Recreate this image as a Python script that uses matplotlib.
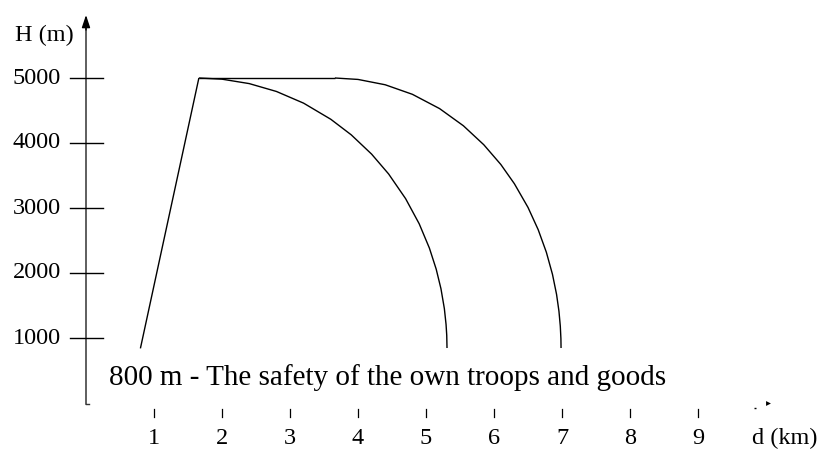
import matplotlib
matplotlib.use("Agg")
import matplotlib.pyplot as plt

# ---- data ----
ramp_d = [0.80, 1.66]
ramp_h = [840, 5000]

flat_d = [1.66, 3.66]
flat_h = [5000, 5000]

inner_d = [1.66, 2.00, 2.40, 2.80, 3.20, 3.60, 3.90, 4.20, 4.45, 4.70, 4.90,
           5.05, 5.15, 5.22, 5.27, 5.295, 5.305, 5.309]
inner_h = [5000, 4982, 4914, 4793, 4613, 4365, 4126, 3829, 3524, 3144, 2757,
           2383, 2059, 1758, 1452, 1208, 1041, 846]

outer_d = [3.66, 4.00, 4.40, 4.80, 5.20, 5.55, 5.85, 6.10, 6.30, 6.50, 6.65,
           6.77, 6.86, 6.92, 6.955, 6.975, 6.984, 6.986]
outer_h = [5000, 4978, 4896, 4749, 4529, 4265, 3973, 3670, 3373, 3009, 2666,
           2319, 1979, 1671, 1413, 1183, 990, 846]

y_ticks = [1000, 2000, 3000, 4000, 5000]
x_ticks = [1, 2, 3, 4, 5, 6, 7, 8, 9]

note_text = "800 m - The safety of the own troops and goods"

serif = ["Liberation Serif", "DejaVu Serif"]

fig = plt.figure(figsize=(8.23, 4.5), dpi=100)
ax = fig.add_axes([0, 0, 1, 1])
ax.set_xlim(-86 / 68, (823 - 86) / 68)
ax.set_ylim(-(450 - 403) / 65 * 1000, 403 / 65 * 1000)
ax.axis("off")

kx = 1 / 68      # km per pixel
ky = 1000 / 65   # m per pixel

# curves
lw = 1.0
for xs, ys in [(ramp_d, ramp_h), (flat_d, flat_h), (inner_d, inner_h), (outer_d, outer_h)]:
    ax.plot(xs, ys, color="black", lw=lw, solid_capstyle="butt", solid_joinstyle="round")

# y axis with arrow
ax.plot([0, 0], [-1 * ky, 375 * ky], color="#333333", lw=1.1)
ax.plot([0, 3 * kx], [-1 * ky, -1 * ky], color="#333333", lw=1.0)
ax.annotate("", xy=(0, (403 - 15) * ky), xytext=(0, (403 - 30) * ky),
            arrowprops=dict(arrowstyle="-|>,head_length=0.75,head_width=0.25",
                            color="black", lw=1.0, shrinkA=0, shrinkB=0))

# y ticks
for h in y_ticks:
    ax.plot([-16 * kx, 17 * kx], [h, h], color="black", lw=1.0)
    ax.text(-25 * kx, h, str(h), ha="right", va="center",
            fontsize=17.5, family=serif)

ax.text(-71 * kx, (403 - 35) * ky, "H (m)", ha="left", va="center",
        fontsize=17.5, family=serif)

# x ticks (detached below)
for d in x_ticks:
    ax.plot([d, d], [-(409 - 403) * ky, -(417 - 403) * ky], color="black", lw=0.9)
    ax.text(d, -(444 - 403) * ky, str(d), ha="center", va="baseline",
            fontsize=17.5, family=serif)

ax.text((785 - 86) * kx, -(444 - 403) * ky, "d (km)", ha="center", va="baseline",
        fontsize=17.5, family=serif)

# tiny remnant of the x axis arrow
ax.plot([(755 - 86) * kx], [-(408 - 403) * ky], marker="_", ms=2, color="black")
ax.plot([(768 - 86) * kx], [0], marker=">", ms=3.5, color="black", mew=0)

# annotation text
ax.text((109 - 86) * kx, -(385 - 403) * ky, note_text, ha="left", va="baseline",
        fontsize=21, family=serif)

fig.savefig("out.png", dpi=100)
